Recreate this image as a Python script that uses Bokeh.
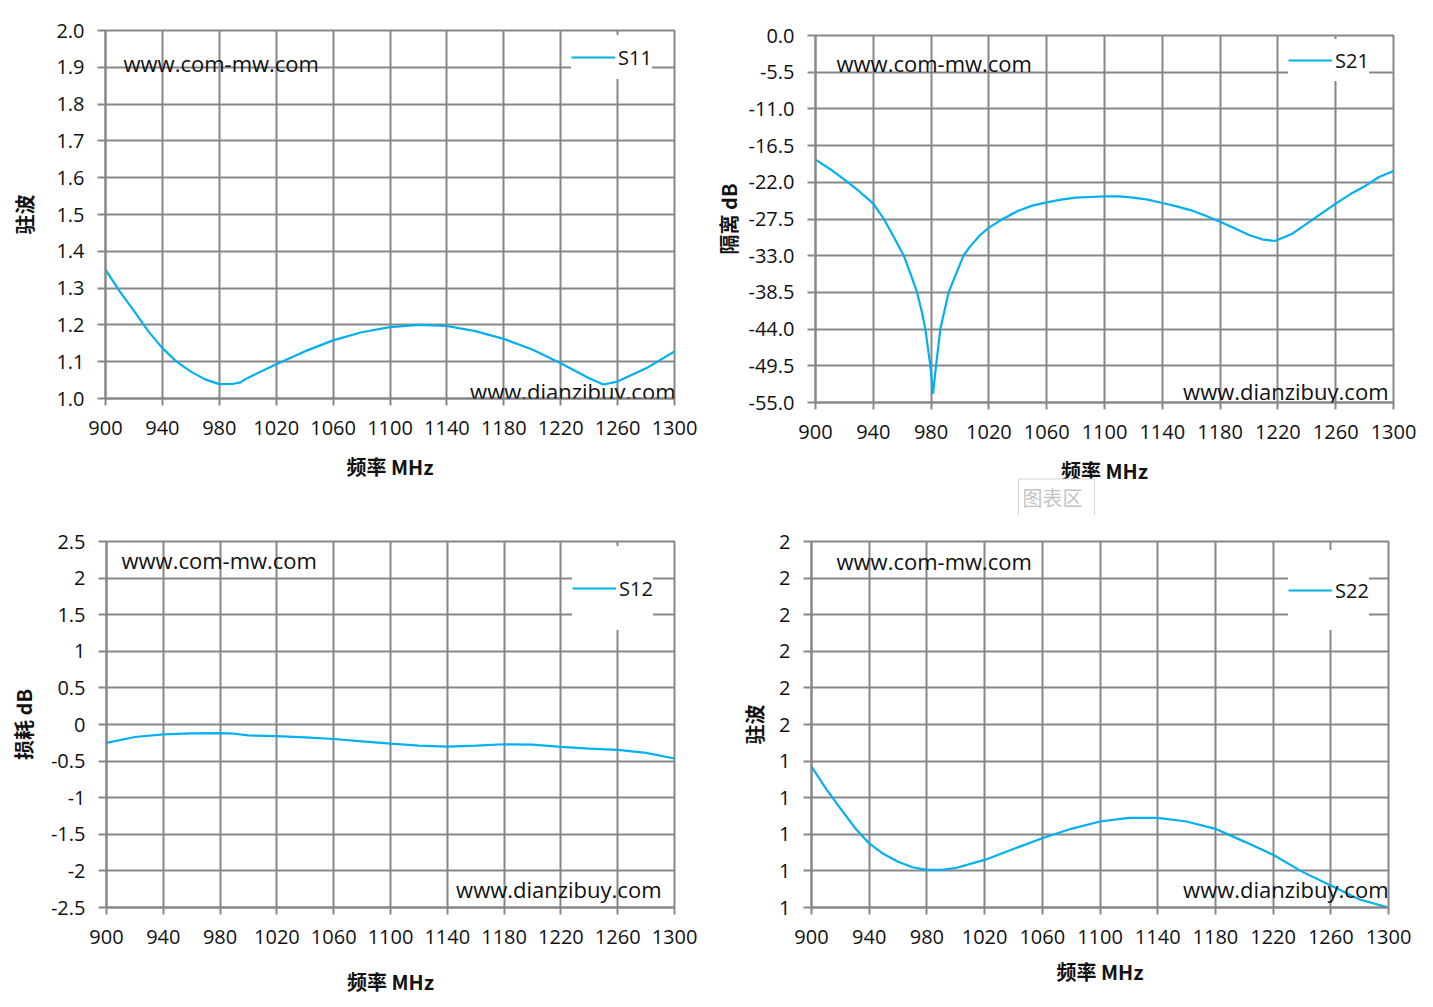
from bokeh.plotting import figure
from bokeh.models import Range1d, FixedTicker, Legend, LegendItem, Label, Title
from bokeh.layouts import row, column
from bokeh.embed import file_html
from bokeh.resources import INLINE

# ---------------- data ----------------
freq_s11 = [900, 910, 920, 930, 940, 950, 960, 970, 980, 990, 995, 1000, 1020, 1040, 1060,
            1080, 1100, 1120, 1140, 1160, 1180, 1200, 1220, 1240, 1250, 1260, 1280, 1300]
s11 = [1.350, 1.291, 1.238, 1.183, 1.137, 1.100, 1.073, 1.052, 1.039, 1.040, 1.044, 1.056, 1.093,
       1.128, 1.158, 1.180, 1.194, 1.200, 1.197, 1.183, 1.162, 1.133, 1.096, 1.055, 1.038, 1.046,
       1.082, 1.128]

freq_s21 = [900, 910, 920, 930, 940, 947.3, 954.2, 961.1, 965.7, 970.3, 973.7, 976.0, 977.6, 979.5,
            981.3, 983.4, 986.4, 992.1, 997.5, 1002.4, 1007, 1014, 1020, 1028, 1040, 1050, 1060,
            1070, 1080, 1090, 1100, 1110, 1120, 1130, 1140, 1150, 1160, 1170, 1180, 1190, 1200,
            1210, 1218, 1230, 1240, 1250, 1260, 1270, 1280, 1290, 1300]
s21 = [-18.6, -20.0, -21.6, -23.3, -25.2, -27.5, -30.2, -33.0, -35.7, -38.5, -41.5, -44.0, -46.5,
       -49.5, -53.7, -49.5, -44.0, -38.5, -35.6, -33.0, -31.6, -29.9, -28.8, -27.7, -26.3, -25.5,
       -25.0, -24.6, -24.3, -24.2, -24.1, -24.1, -24.3, -24.6, -25.1, -25.6, -26.2, -27.0, -27.9,
       -28.9, -29.9, -30.6, -30.8, -29.7, -28.2, -26.7, -25.2, -23.8, -22.6, -21.2, -20.3]

freq_s12 = [900, 920, 940, 960, 980, 990, 1000, 1020, 1040, 1060, 1080, 1100, 1120, 1140, 1160,
            1180, 1200, 1220, 1240, 1260, 1280, 1300]
s12 = [-0.252, -0.171, -0.135, -0.122, -0.117, -0.126, -0.149, -0.158, -0.176, -0.198, -0.230,
       -0.261, -0.288, -0.302, -0.288, -0.270, -0.275, -0.306, -0.329, -0.347, -0.387, -0.464]

freq_s22 = [900, 910, 920, 930, 940, 950, 960, 970, 980, 990, 1000, 1020, 1040, 1060, 1080, 1100,
            1120, 1140, 1160, 1180, 1200, 1220, 1240, 1260, 1280, 1300]
s22 = [1.385, 1.325, 1.271, 1.218, 1.175, 1.146, 1.125, 1.110, 1.103, 1.103, 1.108, 1.130, 1.160,
       1.189, 1.215, 1.235, 1.245, 1.245, 1.235, 1.215, 1.180, 1.144, 1.098, 1.060, 1.022, 1.000]

x_ticks = [900, 940, 980, 1020, 1060, 1100, 1140, 1180, 1220, 1260, 1300]
x_tick_labels = ["900", "940", "980", "1020", "1060", "1100", "1140", "1180", "1220", "1260", "1300"]

s11_ticks = [1.0, 1.1, 1.2, 1.3, 1.4, 1.5, 1.6, 1.7, 1.8, 1.9, 2.0]
s11_tick_labels = ["1.0", "1.1", "1.2", "1.3", "1.4", "1.5", "1.6", "1.7", "1.8", "1.9", "2.0"]

s21_ticks = [0.0, -5.5, -11.0, -16.5, -22.0, -27.5, -33.0, -38.5, -44.0, -49.5, -55.0]
s21_tick_labels = ["0.0", "-5.5", "-11.0", "-16.5", "-22.0", "-27.5", "-33.0", "-38.5", "-44.0",
                   "-49.5", "-55.0"]

s12_ticks = [2.5, 2.0, 1.5, 1.0, 0.5, 0.0, -0.5, -1.0, -1.5, -2.0, -2.5]
s12_tick_labels = ["2.5", "2", "1.5", "1", "0.5", "0", "-0.5", "-1", "-1.5", "-2", "-2.5"]

s22_ticks = [1.0, 1.1, 1.2, 1.3, 1.4, 1.5, 1.6, 1.7, 1.8, 1.9, 2.0]
s22_tick_labels = ["1", "1", "1", "1", "1", "2", "2", "2", "2", "2", "2"]

x_title = "频率 MHz"
watermark_top = "www.com-mw.com"
watermark_bottom = "www.dianzibuy.com"

# ---------------- style ----------------
GRID = "#878787"
BLUE = "#00B0F0"
TICK_FONT = "Open Sans"
CJK_FONT = "Noto Sans CJK SC"


def make_panel(freq, vals, name, ytitle, yticks, ylabels, yrange,
               frame, borders, ylab_standoff, xlab_standoff, legend_line, glyph_h,
               wm_top, wm_bottom):
    fl, ft, fw, fh = frame          # frame left/top (screen) and size
    bl, bt, br, bb = borders
    y0, y1 = yrange
    p = figure(frame_width=fw, frame_height=fh,
               min_border_left=bl, min_border_top=bt, min_border_right=br, min_border_bottom=bb,
               x_range=Range1d(900, 1300), y_range=Range1d(y0, y1),
               output_backend="svg", toolbar_location=None,
               background_fill_color="white", border_fill_color="white")
    p.outline_line_color = GRID
    p.outline_line_width = 2

    r = p.line(freq, vals, line_color=BLUE, line_width=2.2)

    xt = FixedTicker(ticks=x_ticks, minor_ticks=[])
    yt = FixedTicker(ticks=yticks, minor_ticks=[])
    p.xaxis.ticker = xt
    p.yaxis.ticker = yt
    p.xgrid.ticker = xt
    p.ygrid.ticker = yt
    p.xaxis.major_label_overrides = dict(zip(x_ticks, x_tick_labels))
    p.yaxis.major_label_overrides = dict(zip(yticks, ylabels))

    for g in (p.xgrid, p.ygrid):
        g.grid_line_color = GRID
        g.grid_line_width = 2
        g.grid_line_alpha = 1

    for ax in (p.xaxis, p.yaxis):
        ax.axis_line_color = GRID
        ax.axis_line_width = 2
        ax.major_tick_line_color = GRID
        ax.major_tick_line_width = 2
        ax.major_tick_in = 0
        ax.minor_tick_line_color = None
        ax.major_label_text_font = TICK_FONT
        ax.major_label_text_font_size = "20px"
        ax.major_label_text_color = "#111111"
        ax.axis_label_text_font = CJK_FONT
        ax.axis_label_text_font_style = "bold"
        ax.axis_label_text_font_size = "20px"
        ax.axis_label_text_color = "#111111"
    p.xaxis.major_tick_out = 7
    p.yaxis.major_tick_out = 8
    p.xaxis.major_label_standoff = 15
    p.yaxis.major_label_standoff = 13
    p.xaxis.axis_label = x_title
    p.yaxis.axis_label = ytitle
    p.xaxis.axis_label_standoff = xlab_standoff
    p.yaxis.axis_label_standoff = ylab_standoff

    # legend: sample line start / centre on the page; white box of height glyph_h
    lsx, lcy = legend_line
    legend = Legend(items=[LegendItem(label=name, renderers=[r])],
                    location=(lsx - fl, (ft + fh) - lcy - glyph_h / 2),
                    label_text_font=TICK_FONT, label_text_font_size="20px",
                    label_text_color="#111111",
                    glyph_width=44, glyph_height=glyph_h, label_standoff=3,
                    padding=0, margin=0, spacing=0,
                    border_line_color=None, background_fill_color="white",
                    background_fill_alpha=1)
    p.add_layout(legend)

    def dx(sx):
        return 900 + (sx - fl) / fw * 400

    def dy(sy):
        return y1 - (sy - ft) / fh * (y1 - y0)

    (tx, ty), (bx, by) = wm_top, wm_bottom
    p.add_layout(Label(x=dx(tx), y=dy(ty), text=watermark_top, text_font=TICK_FONT,
                       text_font_size="22px", text_baseline="middle", text_align="left",
                       text_color="#111111"))
    p.add_layout(Label(x=dx(bx), y=dy(by), text=watermark_bottom, text_font=TICK_FONT,
                       text_font_size="22px", text_baseline="middle", text_align="right",
                       text_color="#111111"))
    return p


p1 = make_panel(freq_s11, s11, "S11", "驻波", s11_ticks, s11_tick_labels, (1.0, 2.0),
                (105, 30, 569, 368), (105, 30, 36, 117), 14, 14,
                (571, 57), 44, (123, 62), (675, 390))
p2 = make_panel(freq_s21, s21, "S21", "隔离 dB", s21_ticks, s21_tick_labels, (-55.0, 0.0),
                (815, 35, 578, 367), (105, 35, 32, 113), 3, 14,
                (1288, 60), 42, (836, 62), (1388, 390))
p3 = make_panel(freq_s12, s12, "S12", "损耗 dB", s12_ticks, s12_tick_labels, (-2.5, 2.5),
                (106, 541, 568, 366), (106, 26, 36, 92), 10, 20,
                (572, 588), 84, (121, 559), (661, 888))
p4 = make_panel(freq_s22, s22, "S22", "驻波", s22_ticks, s22_tick_labels, (1.0, 2.0),
                (811, 541, 577, 366), (101, 26, 37, 92), 7, 10,
                (1288, 590), 80, (836, 560), (1388, 888))

# Excel "图表区" hover tip seen in the screenshot, below the S21 axis title
p2.add_layout(Title(text="图表区", align="left", offset=1018 - 815, standoff=-21,
                    text_font=CJK_FONT, text_font_size="20px", text_font_style="normal",
                    text_color="#c4c4c4", border_line_color="#d4d4d4", border_line_width=1,
                    background_fill_color="white", background_fill_alpha=1,
                    padding=(4, 12, 4, 12)),
              "below")

layout = column(row(column(p1), column(p2)), row(column(p3), column(p4)))

with open("out.html", "w") as f:
    f.write(file_html(layout, INLINE))
